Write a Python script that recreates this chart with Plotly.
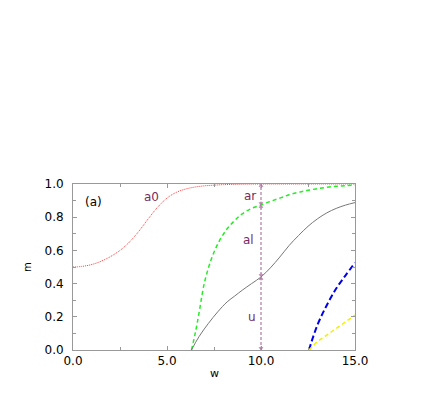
import plotly.graph_objects as go

# curve data
w_a0 = [0, 0.5, 1, 1.5, 2, 2.5, 3, 3.5, 4, 4.5, 5, 5.5, 6, 6.5, 7, 7.5, 8, 9, 10, 12, 15]
m_a0 = [0.500, 0.504, 0.515, 0.535, 0.563, 0.600, 0.650, 0.715, 0.790, 0.860, 0.915,
        0.950, 0.970, 0.982, 0.989, 0.993, 0.996, 0.999, 1.0, 1.0, 1.0]

w_ar = [6.3, 6.5, 6.7, 7.0, 7.4, 7.8, 8.2, 8.6, 9.0, 9.5, 10, 10.5, 11, 11.5, 12, 12.5,
        13, 13.5, 14, 14.5, 15]
m_ar = [0.0, 0.10, 0.22, 0.41, 0.56, 0.66, 0.73, 0.78, 0.82, 0.853, 0.873, 0.895, 0.915,
        0.935, 0.95, 0.962, 0.972, 0.980, 0.986, 0.99, 0.993]

w_al = [6.3, 6.7, 7.2, 7.7, 8.2, 8.6, 9.0, 9.5, 10, 10.5, 11, 11.5, 12, 12.5, 13, 13.5,
        14, 14.5, 15]
m_al = [0.0, 0.08, 0.16, 0.23, 0.29, 0.325, 0.36, 0.40, 0.44, 0.495, 0.56, 0.63, 0.69,
        0.745, 0.79, 0.826, 0.853, 0.873, 0.888]

w_b = [12.55, 13.0, 13.5, 14.0, 14.5, 15.0]
m_blue = [0.0, 0.15, 0.27, 0.37, 0.45, 0.525]
m_yellow = [0.0, 0.05, 0.09, 0.13, 0.17, 0.21]

# vertical marker at w=10 and the levels it separates
w_mark = 10.0
m_levels = [0.0, 0.44, 0.873, 1.0]
labels = ["u", "al", "ar", "a0"]
label_w = [9.5, 9.33, 9.41, 4.2]
label_m = [0.2, 0.66, 0.93, 0.92]

purple = "#7a2a60"
arrow_col = "#b07aa4"
FONT = "DejaVu Sans"

fig = go.Figure()

fig.add_trace(go.Scatter(x=w_a0, y=m_a0, mode="lines",
                         line=dict(color="#ff3b3b", width=1, dash="1px,1px", shape="spline")))
fig.add_trace(go.Scatter(x=w_ar, y=m_ar, mode="lines",
                         line=dict(color="#22ee22", width=1.5, dash="4px,3px", shape="spline")))
fig.add_trace(go.Scatter(x=w_al, y=m_al, mode="lines",
                         line=dict(color="#777777", width=1, shape="spline")))
fig.add_trace(go.Scatter(x=w_b, y=m_blue, mode="lines",
                         line=dict(color="#0000ee", width=2, dash="6px,3px", shape="spline")))
fig.add_trace(go.Scatter(x=w_b, y=m_yellow, mode="lines",
                         line=dict(color="#f0f000", width=1.5, dash="4px,3px", shape="spline")))

# dashed vertical line
fig.add_trace(go.Scatter(x=[w_mark, w_mark], y=[m_levels[0], m_levels[-1]], mode="lines",
                         line=dict(color=arrow_col, width=1.2, dash="3px,2px")))

# arrow heads at each level (double-headed segments)
for i in range(len(m_levels) - 1):
    lo, hi = m_levels[i], m_levels[i + 1]
    for tip, tail in [(lo, lo + 0.03), (hi, hi - 0.03)]:
        fig.add_annotation(x=w_mark, y=tip, ax=w_mark, ay=tail,
                           xref="x", yref="y", axref="x", ayref="y",
                           text="", showarrow=True, arrowhead=4, arrowsize=0.8,
                           arrowwidth=1, arrowcolor=arrow_col)

for t, x, y in zip(labels, label_w, label_m):
    fig.add_annotation(x=x, y=y, text=t, showarrow=False,
                       font=dict(color=purple, size=12, family=FONT))

fig.add_annotation(x=1.08, y=0.89, text="(a)", showarrow=False,
                   font=dict(color="black", size=12, family=FONT))

# axis titles
fig.add_annotation(x=-0.163, y=0.5, xref="paper", yref="paper", text="m",
                   textangle=-90, showarrow=False, xanchor="center", yanchor="middle",
                   font=dict(color="black", size=10, family=FONT))
fig.add_annotation(x=0.5, y=-0.14, xref="paper", yref="paper", text="w",
                   showarrow=False, yanchor="middle",
                   font=dict(color="black", size=11, family=FONT))

axis_common = dict(
    showgrid=False, zeroline=False, showline=True, linecolor="#999999", linewidth=1,
    mirror="allticks", ticks="inside", ticklen=4, tickcolor="#999999", tickwidth=1,
    tickfont=dict(color="black", size=12, family=FONT),
    tickformat=".1f", automargin=False,
)

fig.update_xaxes(range=[0, 15], dtick=5, tick0=0,
                 minor=dict(dtick=2.5, ticks="inside", ticklen=3, tickcolor="#999999"),
                 **axis_common)
fig.update_yaxes(range=[0, 1], dtick=0.2, tick0=0, ticklabelstandoff=6,
                 minor=dict(dtick=0.1, ticks="inside", ticklen=3, tickcolor="#999999"),
                 **axis_common)

# the page body adds an 8px offset, so margins are shifted accordingly
fig.update_layout(
    width=429, height=395,
    margin=dict(l=65, r=82, t=176, b=53),
    paper_bgcolor="white", plot_bgcolor="white",
    showlegend=False,
)

fig.write_html("out.html")
